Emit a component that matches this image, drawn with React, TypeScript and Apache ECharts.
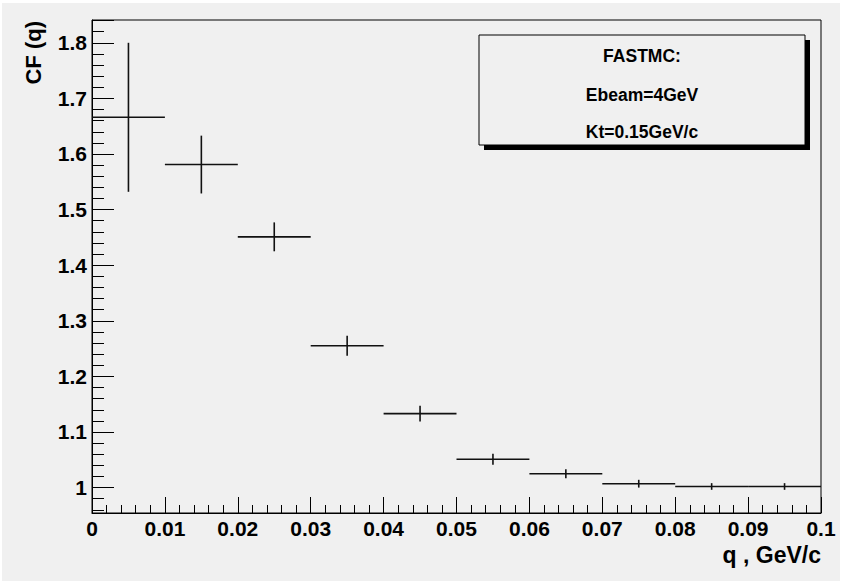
import React, { useEffect, useRef } from "react";
import * as echarts from "echarts";

// Bin centres of the momentum difference q (GeV/c)
const qCenters = [0.005, 0.015, 0.025, 0.035, 0.045, 0.055, 0.065, 0.075, 0.085, 0.095];
// Half bin widths (horizontal error bars)
const qHalfWidths = [0.005, 0.005, 0.005, 0.005, 0.005, 0.005, 0.005, 0.005, 0.005, 0.005];
// Correlation function values and their statistical errors
const cfValues = [1.666, 1.581, 1.451, 1.255, 1.133, 1.051, 1.025, 1.007, 1.002, 1.002];
const cfErrors = [0.134, 0.052, 0.026, 0.018, 0.014, 0.01, 0.008, 0.007, 0.006, 0.006];

// Axis ranges
const xRange = [0, 0.1];
const yRange = [0.9543, 1.841];

// Text of the info box
const infoLines = ["FASTMC:", "Ebeam=4GeV", "Kt=0.15GeV/c"];

const FONT = "'Liberation Sans', Arial, Helvetica, sans-serif";

export default function App() {
  const ref = useRef<HTMLDivElement>(null);

  useEffect(() => {
    document.body.style.margin = "0";
    if (!ref.current) return;
    const chart = echarts.init(ref.current, null, { renderer: "svg" });

    const points = qCenters.map((q, i) => [q, cfValues[i], qHalfWidths[i], cfErrors[i]]);

    chart.setOption({
      animation: false,
      backgroundColor: "#ffffff",
      textStyle: { fontFamily: FONT },
      graphic: [
        {
          type: "rect",
          z: -10,
          silent: true,
          shape: { x: 2, y: 3, width: 838, height: 578 },
          style: { fill: "#f0f0f0" },
        },
        // shadow of the info box
        {
          type: "rect",
          z: 10,
          shape: { x: 484, y: 40, width: 326, height: 110 },
          style: { fill: "#000000" },
        },
        {
          type: "rect",
          z: 11,
          shape: { x: 479, y: 35, width: 326, height: 110 },
          style: { fill: "#f0f0f0", stroke: "#000000", lineWidth: 1 },
        },
        ...infoLines.map((t, i) => ({
          type: "text",
          z: 12,
          x: 642,
          y: [56, 95, 132][i],
          style: {
            text: t,
            align: "center",
            verticalAlign: "middle",
            font: `bold 17.5px ${FONT}`,
            fill: "#000000",
          },
        })),
        {
          type: "text",
          z: 12,
          x: 33,
          y: 21,
          rotation: Math.PI / 2,
          style: {
            text: "CF (q)",
            align: "right",
            verticalAlign: "middle",
            font: `bold 22px ${FONT}`,
            fill: "#000000",
          },
        },
        {
          type: "text",
          z: 12,
          x: 821,
          y: 555,
          style: {
            text: "q , GeV/c",
            align: "right",
            verticalAlign: "middle",
            font: `bold 23px ${FONT}`,
            fill: "#000000",
          },
        },
      ],
      grid: {
        left: 92,
        right: 22,
        top: 20,
        bottom: 71,
        show: true,
        borderColor: "#000000",
        borderWidth: 1,
        backgroundColor: "transparent",
      },
      xAxis: {
        type: "value",
        min: xRange[0],
        max: xRange[1],
        interval: 0.01,
        axisLine: { show: true, onZero: false, lineStyle: { color: "#000", width: 1 } },
        axisTick: { show: true, inside: true, length: 16, lineStyle: { color: "#000", width: 1 } },
        minorTick: { show: true, splitNumber: 5, length: 8, lineStyle: { color: "#000", width: 1 } },
        splitLine: { show: false },
        axisLabel: {
          margin: 5,
          color: "#000",
          fontSize: 21,
          fontWeight: "bold",
          fontFamily: FONT,
          formatter: (v: number) => String(Math.round(v * 1000) / 1000),
        },
      },
      yAxis: {
        type: "value",
        min: yRange[0],
        max: yRange[1],
        splitNumber: 8,
        axisLine: { show: true, onZero: false, lineStyle: { color: "#000", width: 1 } },
        axisTick: { show: true, inside: true, length: 22, lineStyle: { color: "#000", width: 1 } },
        minorTick: { show: true, splitNumber: 5, length: 12, lineStyle: { color: "#000", width: 1 } },
        splitLine: { show: false },
        axisLabel: {
          margin: 5,
          color: "#000",
          fontSize: 21,
          fontWeight: "bold",
          fontFamily: FONT,
          showMinLabel: false,
          showMaxLabel: false,
          formatter: (v: number) => {
            const r = Math.round(v * 10) / 10;
            return Math.abs(r - v) < 1e-6 ? String(r) : "";
          },
        },
      },
      series: [
        {
          type: "custom",
          data: points,
          encode: { x: 0, y: 1 },
          clip: true,
          renderItem: (_params: any, api: any) => {
            const x = api.value(0);
            const y = api.value(1);
            const ex = api.value(2);
            const ey = api.value(3);
            const l = api.coord([x - ex, y]);
            const r = api.coord([x + ex, y]);
            const t = api.coord([x, y + ey]);
            const b = api.coord([x, y - ey]);
            const style = { stroke: "#111111", lineWidth: 1.6 };
            return {
              type: "group",
              children: [
                { type: "line", shape: { x1: l[0], y1: l[1], x2: r[0], y2: r[1] }, style },
                { type: "line", shape: { x1: t[0], y1: t[1], x2: b[0], y2: b[1] }, style },
              ],
            };
          },
        },
      ],
    });

    return () => chart.dispose();
  }, []);

  return (
    <div
      ref={ref}
      style={{ position: "absolute", left: 0, top: 0, width: 843, height: 584 }}
    />
  );
}
